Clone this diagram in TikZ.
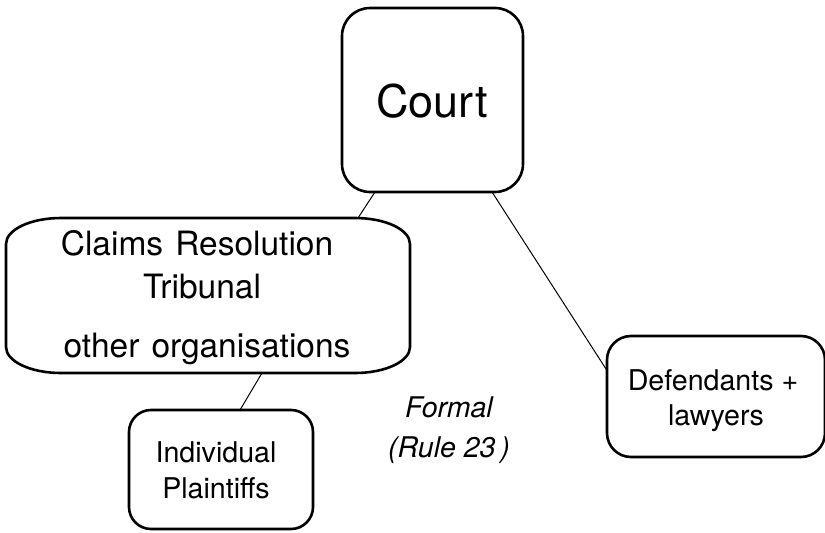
\documentclass[tikz,border=0pt]{standalone}
\usepackage{fontspec}
\setmainfont{TeX Gyre Heros}
\newfontfamily\widefont{TeX Gyre Heros}[WordSpace=1.3]
\usetikzlibrary{calc}
\begin{document}
\begin{tikzpicture}[x=1pt,y=-1pt,
  box/.style={draw, line width=2.6pt, inner sep=0pt, outer sep=0pt},
  conn/.style={line width=1pt},
  txt/.style={anchor=base, inner sep=0pt, outer sep=0pt},
  big/.style={font=\fontsize{45}{54}\selectfont},
  mid/.style={font=\widefont\fontsize{33.5}{40}\selectfont},
  small/.style={font=\fontsize{28.6}{34}\selectfont},
  note/.style={font=\fontsize{28.5}{34}\selectfont\itshape}]
\useasboundingbox (0,0) rectangle (825,533);
% Court
\node[box, rounded corners=28pt, minimum width=181pt, minimum height=184pt] (court) at (432.5,100) {};
\node[txt, big] (courtT) at (432,117) {Court};
% Claims Resolution Tribunal (elliptical corners)
\node[inner sep=0pt, outer sep=0pt, minimum width=404pt, minimum height=155pt] (claims) at (208,295.5) {};
\draw[line width=2.6pt]
  ($(claims.north west)+(55,0)$) -- ($(claims.north east)+(-55,0)$)
  .. controls ($(claims.north east)+(-24.6,0)$) and ($(claims.north east)+(0,11.6)$) .. ($(claims.north east)+(0,26)$)
  -- ($(claims.south east)+(0,-26)$)
  .. controls ($(claims.south east)+(0,-11.6)$) and ($(claims.south east)+(-24.6,0)$) .. ($(claims.south east)+(-55,0)$)
  -- ($(claims.south west)+(55,0)$)
  .. controls ($(claims.south west)+(24.6,0)$) and ($(claims.south west)+(0,-11.6)$) .. ($(claims.south west)+(0,-26)$)
  -- ($(claims.north west)+(0,26)$)
  .. controls ($(claims.north west)+(0,11.6)$) and ($(claims.north west)+(24.6,0)$) .. ($(claims.north west)+(55,0)$)
  -- cycle;
\node[txt, mid] (cl1) at (197,255) {Claims Resolution};
\node[txt, mid] (cl2) at (202,298) {Tribunal};
\node[txt, mid] (cl3) at (207,357) {other organisations};
% Individual Plaintiffs
\node[box, rounded corners=22pt, minimum width=184pt, minimum height=119pt] (plaintiffs) at (221,469.5) {};
\node[txt, small] (pl1) at (216,462) {Individual};
\node[txt, small] (pl2) at (216,498) {Plaintiffs};
% Defendants
\node[box, rounded corners=24pt, minimum width=218pt, minimum height=121pt] (defendants) at (716,396.5) {};
\node[txt, small] (df1) at (713,390) {Defendants +};
\node[txt, small] (df2) at (716,425) {lawyers};
% Formal note
\node[txt, note] (fo1) at (449,417) {Formal};
\node[txt, note] (fo2) at (449,457) {(Rule 23\,)};
% connectors
\draw[conn] ([xshift=-57.5pt]court.south) -- ([xshift=150pt]claims.north);
\draw[conn] ([xshift=59.5pt]court.south) -- ([yshift=26pt]defendants.west);
\draw[conn] ([xshift=54pt]claims.south) -- ([xshift=19pt]plaintiffs.north);
\end{tikzpicture}
\end{document}
